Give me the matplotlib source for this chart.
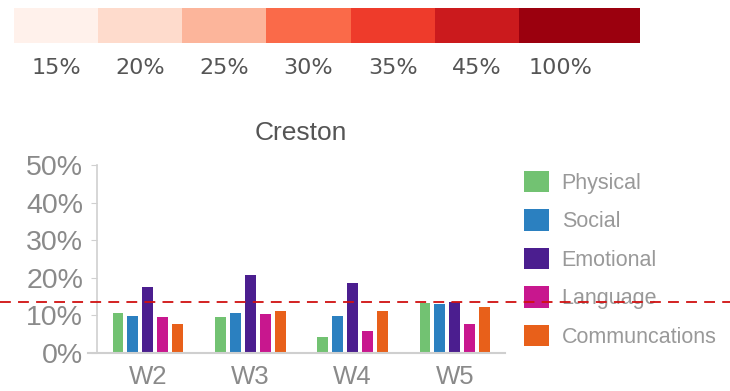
import matplotlib
matplotlib.use("Agg")
import matplotlib.pyplot as plt
import numpy as np
from matplotlib.transforms import blended_transform_factory
from matplotlib.lines import Line2D

# ---- data ----
scale_labels = ["15%", "20%", "25%", "30%", "35%", "45%", "100%"]
scale_colors = ["#fff1eb", "#fedbcc", "#fcb59b", "#fa6a49", "#ee3b2b", "#cb1a1d", "#9b000e"]

title = "Creston"
groups = ["W2", "W3", "W4", "W5"]
series_names = ["Physical", "Social", "Emotional", "Language", "Communcations"]
series_colors = ["#72c272", "#2b80c0", "#4b1e8f", "#c8178e", "#e8601a"]
physical = [10.6, 9.5, 4.3, 13.4]
social = [9.8, 10.7, 9.8, 13.0]
emotional = [17.6, 20.7, 18.7, 13.6]
language = [9.7, 10.5, 5.9, 7.7]
communications = [7.7, 11.3, 11.3, 12.3]
series_values = [physical, social, emotional, language, communications]
yticks = [0, 10, 20, 30, 40, 50]
ref_line = 13.5

W, H = 730, 391
fig = plt.figure(figsize=(W / 100, H / 100), dpi=100)
plt.rcParams['font.family'] = ['Liberation Sans', 'DejaVu Sans']

def fx(px):
    return px / W

def fy(py):
    return 1 - py / H

# ---- colour scale strip ----
cax = fig.add_axes([fx(14), fy(43), fx(640 - 14), (43 - 8) / H])
edges = list(range(len(scale_colors))) + [len(scale_colors) + 0.44]
for i, c in enumerate(scale_colors):
    cax.axvspan(edges[i], edges[i + 1], color=c, lw=0)
cax.set_xlim(0, edges[-1])
cax.set_ylim(0, 1)
cax.axis("off")
for i, lab in enumerate(scale_labels):
    cax.text(i + 0.5, -0.72, lab, ha="center", va="center", fontsize=16,
             color="#555555", family=["DejaVu Sans"])

# ---- bar chart ----
ax = fig.add_axes([fx(88), fy(353), fx(505 - 88), (353 - 165) / H])
x = np.arange(len(groups))
step = 0.146
width = 0.107
handles = []
for k, (name, vals, col) in enumerate(zip(series_names, series_values, series_colors)):
    b = ax.bar(x + (k - 2) * step, vals, width=width, color=col, label=name, zorder=2)
    handles.append(b)

ax.set_xlim(-0.585, 3.49)
ax.set_ylim(0, 50)
ax.set_yticks(yticks)
ax.set_yticklabels([f"{t}%" for t in yticks])
ax.set_xticks(x)
ax.set_xticklabels(groups)
for s in ["top", "right"]:
    ax.spines[s].set_visible(False)
ax.spines["left"].set_position(("outward", -6.5))
ax.spines["left"].set_color("#d0d0d0")
ax.spines["bottom"].set_color("#cfcfcf")
ax.spines["left"].set_linewidth(1.2)
ax.spines["bottom"].set_linewidth(1.5)
ax.tick_params(axis="y", length=4, color="#d0d0d0", pad=6, labelsize=20.5, labelcolor="#8a8a8a")
ax.tick_params(axis="x", length=0, pad=9, labelsize=18.5, labelcolor="#8a8a8a")
ax.set_title(title, fontsize=19, color="#555555", pad=18, x=0.51)

leg = ax.legend(handles=handles, loc="upper left", bbox_to_anchor=(fx(524), fy(171)),
                bbox_transform=fig.transFigure, frameon=False, fontsize=15.5,
                handlelength=1.15, handleheight=1.15, labelspacing=0.72,
                handletextpad=0.6, borderpad=0, borderaxespad=0)
for t in leg.get_texts():
    t.set_color("#999999")

# ---- reference dashed line across the figure ----
tr = blended_transform_factory(fig.transFigure, ax.transData)
fig.add_artist(Line2D([0, 1], [ref_line, ref_line], transform=tr, color="#d01010",
                      lw=1.3, ls=(0, (6, 4)), zorder=10))

fig.savefig("out.png", dpi=100)
